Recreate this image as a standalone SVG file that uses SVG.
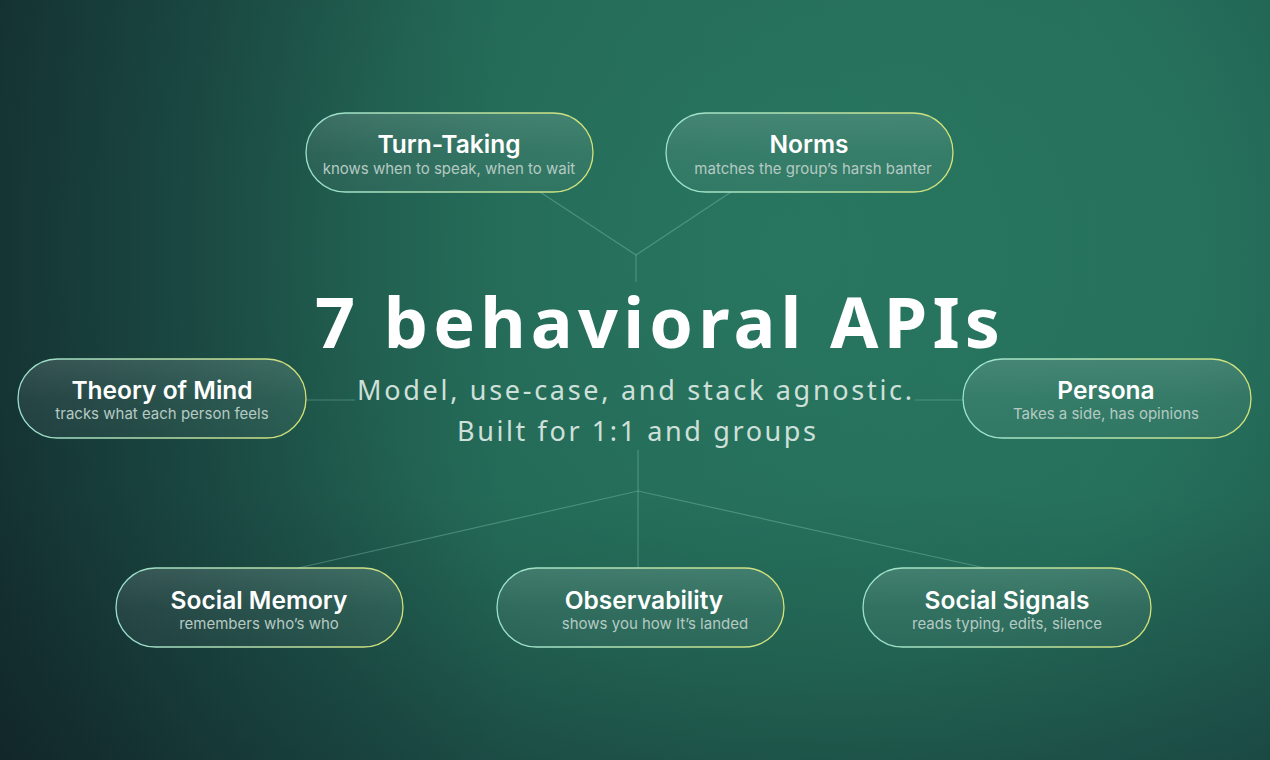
<svg xmlns="http://www.w3.org/2000/svg" width="1270" height="760" viewBox="0 0 1270 760">
<defs>
<radialGradient id="bg" cx="780" cy="250" r="950" gradientUnits="userSpaceOnUse">
<stop offset="0" stop-color="#2a7c64"/>
<stop offset="0.45" stop-color="#26725d"/>
<stop offset="0.8" stop-color="#1d524a"/>
<stop offset="1" stop-color="#173432"/>
</radialGradient>
<linearGradient id="shade" x1="0" y1="0" x2="1" y2="0">
<stop offset="0" stop-color="#0f1f24" stop-opacity="0.55"/>
<stop offset="0.4" stop-color="#0f1f24" stop-opacity="0.1"/>
<stop offset="1" stop-color="#0f1f24" stop-opacity="0"/>
</linearGradient>
<linearGradient id="shadeB" x1="0" y1="0" x2="0" y2="1">
<stop offset="0.65" stop-color="#0f1f24" stop-opacity="0"/>
<stop offset="1" stop-color="#0f1f24" stop-opacity="0.25"/>
</linearGradient>
<linearGradient id="border" x1="0" y1="0" x2="1" y2="0">
<stop offset="0" stop-color="#a6eedc"/>
<stop offset="0.5" stop-color="#c4eeb6"/>
<stop offset="1" stop-color="#e6ee78"/>
</linearGradient>
<linearGradient id="fill" x1="0" y1="0" x2="0" y2="1">
<stop offset="0" stop-color="#ffffff" stop-opacity="0.14"/>
<stop offset="0.5" stop-color="#ffffff" stop-opacity="0.07"/>
<stop offset="1" stop-color="#ffffff" stop-opacity="0.05"/>
</linearGradient>
</defs>
<style>
.pill{fill:url(#fill);stroke:url(#border);stroke-width:1.3;stroke-opacity:0.9}
.t{font-family:Inter,"Liberation Sans",sans-serif;font-weight:600;font-size:24.5px;fill:#ffffff;text-anchor:middle}
.s{font-family:Inter,"Liberation Sans",sans-serif;font-weight:400;font-size:15px;fill:#b5cac3;text-anchor:middle}
.c{stroke:#8fd0bd;stroke-opacity:0.35;stroke-width:1.2;fill:none}
.h1{font-family:"Noto Sans","Liberation Sans",sans-serif;font-weight:700;font-size:70px;fill:#ffffff}
.h2{font-family:"Noto Sans","Liberation Sans",sans-serif;font-weight:400;font-size:27px;fill:#cfe0da}
</style>
<rect width="1270" height="760" fill="url(#bg)"/>
<rect width="1270" height="760" fill="url(#shade)"/>
<rect width="1270" height="760" fill="url(#shadeB)"/>

<g id="connectors">
<path class="c" d="M540 192 L636 255 L731 192"/>
<path class="c" d="M636 255 V282"/>
<path class="c" d="M306 400 H355"/>
<path class="c" d="M915 400 H963"/>
<path class="c" d="M638 450 V568"/>
<path class="c" d="M298 568 L638 491 L985 568"/>
</g>

<g id="title">
<text class="h1" x="315" y="348" textLength="685" lengthAdjust="spacing">7 behavioral APIs</text>
<text class="h2" x="357" y="400" textLength="555" lengthAdjust="spacing">Model, use-case, and stack agnostic.</text>
<text class="h2" x="457" y="441" textLength="359" lengthAdjust="spacing">Built for 1:1 and groups</text>
</g>

<g id="turn-taking">
<rect class="pill" x="306" y="113" width="287" height="79" rx="39.5"/>
<text class="t" x="449" y="153">Turn-Taking</text>
<text class="s" x="449" y="174">knows when to speak, when to wait</text>
</g>
<g id="norms">
<rect class="pill" x="666" y="113" width="287" height="79" rx="39.5"/>
<text class="t" x="809" y="153">Norms</text>
<text class="s" x="813" y="174">matches the group’s harsh banter</text>
</g>
<g id="theory-of-mind">
<rect class="pill" x="18" y="359" width="288" height="79" rx="39.5"/>
<text class="t" x="162" y="399">Theory of Mind</text>
<text class="s" x="162" y="419">tracks what each person feels</text>
</g>
<g id="persona">
<rect class="pill" x="963" y="359" width="288" height="79" rx="39.5"/>
<text class="t" x="1106" y="399">Persona</text>
<text class="s" x="1106" y="419">Takes a side, has opinions</text>
</g>
<g id="social-memory">
<rect class="pill" x="116" y="568" width="287" height="79" rx="39.5"/>
<text class="t" x="259" y="609">Social Memory</text>
<text class="s" x="259" y="629">remembers who’s who</text>
</g>
<g id="observability">
<rect class="pill" x="497" y="568" width="287" height="79" rx="39.5"/>
<text class="t" x="644" y="609">Observability</text>
<text class="s" x="655" y="629">shows you how It’s landed</text>
</g>
<g id="social-signals">
<rect class="pill" x="863" y="568" width="288" height="79" rx="39.5"/>
<text class="t" x="1007" y="609">Social Signals</text>
<text class="s" x="1007" y="629">reads typing, edits, silence</text>
</g>
</svg>
